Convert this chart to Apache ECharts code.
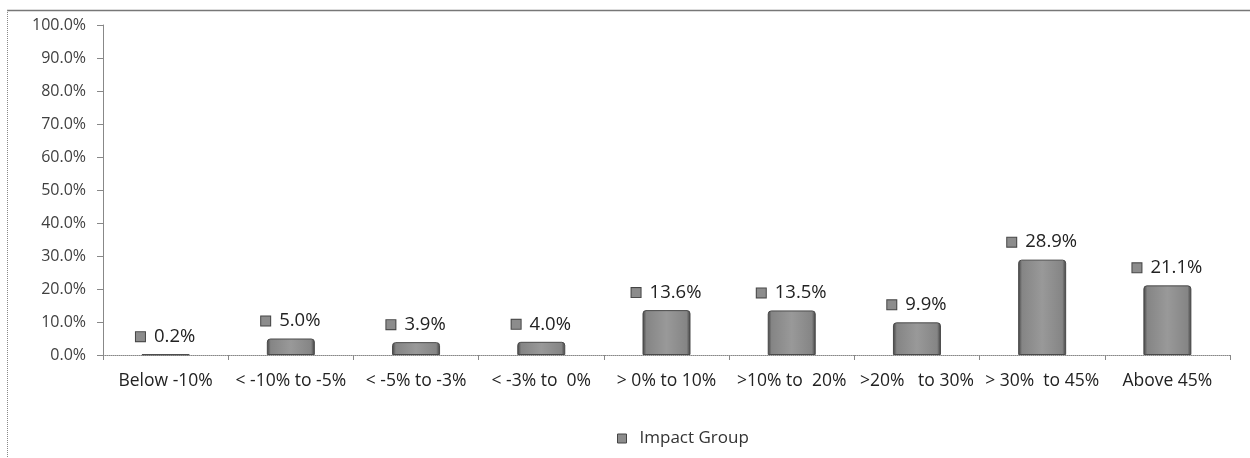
<!DOCTYPE html>
<html>
<head>
<meta charset="utf-8">
<script src="https://cdn.jsdelivr.net/npm/echarts@6/dist/echarts.min.js"></script>
<style>
html,body{margin:0;padding:0;background:#fff;}
#chart{width:1250px;height:458px;}
</style>
</head>
<body>
<div id="chart"></div>
<script>
const categories = ['Below -10%', '< -10% to -5%', '< -5% to -3%', '< -3% to  0%', '> 0% to 10%', '>10% to  20%', '>20%   to 30%', '> 30%  to 45%', 'Above 45%'];
const values = [0.2, 5.0, 3.9, 4.0, 13.6, 13.5, 9.9, 28.9, 21.1];
const seriesName = 'Impact Group';
const yTicks = {min: 0, max: 100, interval: 10};

const FONT = '"Open Sans", sans-serif';
const chart = echarts.init(document.getElementById('chart'));
chart.setOption({
  animation: false,
  backgroundColor: '#fff',
  grid: {left: 103, right: 20, top: 25, bottom: 103, containLabel: false},
  legend: {
    data: [seriesName],
    left: 612, top: 425,
    icon: 'rect', itemWidth: 9, itemHeight: 9,
    itemStyle: {color: '#8c8c8c', borderColor: '#444', borderWidth: 1},
    textStyle: {fontFamily: FONT, fontSize: 17, color: '#333', padding: [0, 0, 0, 8]}
  },
  xAxis: {
    type: 'category',
    data: categories,
    axisLine: {lineStyle: {color: '#888', type: 'dotted', width: 1}},
    axisTick: {show: true, length: 5, lineStyle: {color: '#888'}},
    axisLabel: {fontFamily: FONT, fontSize: 17.5, color: '#222', margin: 17, interval: 0}
  },
  yAxis: {
    type: 'value',
    min: yTicks.min, max: yTicks.max, interval: yTicks.interval,
    axisLine: {show: true, lineStyle: {color: '#888'}},
    axisTick: {show: true, inside: false, length: 6, lineStyle: {color: '#888'}},
    splitLine: {show: false},
    axisLabel: {fontFamily: FONT, fontSize: 16, color: '#404040', margin: 17,
      formatter: v => v.toFixed(1) + '%'}
  },
  series: [{
    name: seriesName,
    type: 'bar',
    data: values,
    barWidth: 48,
    itemStyle: {
      borderRadius: [3, 3, 0, 0],
      color: new echarts.graphic.LinearGradient(0, 0, 1, 0, [
        {offset: 0, color: '#404040'},
        {offset: 0.08, color: '#858585'},
        {offset: 0.5, color: '#999999'},
        {offset: 0.92, color: '#858585'},
        {offset: 1, color: '#404040'}
      ]),
      borderColor: '#4a4a4a', borderWidth: 1
    },
    label: {
      show: true, position: 'top', distance: 8,
      formatter: p => '{i|}{v|' + p.value.toFixed(1) + '%}',
      rich: {
        i: {width: 9, height: 9, backgroundColor: '#8c8c8c', borderColor: '#444', borderWidth: 1},
        v: {fontFamily: FONT, fontSize: 18.5, color: '#222', padding: [0, 0, 0, 9]}
      }
    }
  }],
  graphic: [
    {type: 'line', shape: {x1: 7, y1: 10.5, x2: 1250, y2: 10.5}, style: {stroke: '#777', lineWidth: 1.5}},
    {type: 'line', shape: {x1: 7.5, y1: 10, x2: 7.5, y2: 458}, style: {stroke: '#888', lineWidth: 1, lineDash: [1, 1]}}
  ]
});
</script>
</body>
</html>
